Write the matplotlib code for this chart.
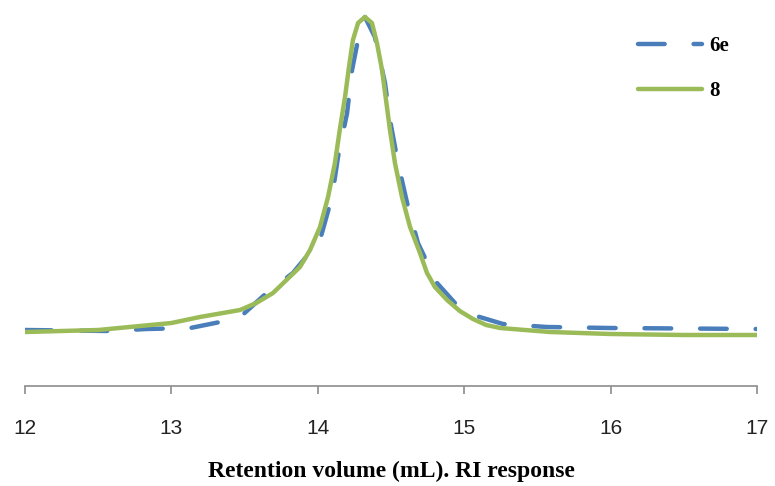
import matplotlib
matplotlib.use("Agg")
import matplotlib.pyplot as plt

# retention volume (mL) and RI response (arbitrary units)
vol_8 = [12.0, 12.5, 13.0, 13.195, 13.469, 13.58, 13.694, 13.878, 13.947,
         14.015, 14.07, 14.117, 14.152, 14.186, 14.213, 14.24, 14.275, 14.322,
         14.37, 14.404, 14.439, 14.466, 14.493, 14.527, 14.575, 14.63, 14.698,
         14.746, 14.8, 14.883, 14.97, 15.06, 15.15, 15.245, 15.586, 16.0, 16.5,
         17.0]
ri_8 = [54, 56, 63, 69, 76, 83, 93, 119, 136, 159, 189, 223, 258, 289, 319,
        346, 363, 369, 363, 343, 316, 286, 256, 223, 189, 159, 133, 113, 99,
        86, 75, 67, 61, 58, 54, 52, 51, 51]

vol_6e = [12.0, 12.58, 12.83, 13.13, 13.40, 13.47, 13.65, 13.83, 14.015, 14.097,
          14.138, 14.2, 14.234, 14.288, 14.322, 14.39, 14.459, 14.493, 14.548,
          14.61, 14.684, 14.814, 14.992, 15.265, 15.566, 16.0, 17.0]
ri_6e = [56, 55, 57, 58, 66, 69, 93, 113, 146, 189, 229, 273, 316, 356, 369,
         349, 303, 266, 223, 183, 143, 103, 74, 62, 59, 58, 57]

BLUE = "#4a7ebb"
GREEN = "#9bbb59"
AXIS_GREY = "#8c8c8c"

fig = plt.figure(figsize=(7.75, 4.86), dpi=100)
ax = fig.add_axes([25 / 775, 100 / 486, 732 / 775, 381 / 486])

ax.plot(vol_6e, ri_6e, color=BLUE, lw=3.2, dashes=(6, 6.5),
        dash_capstyle="round", label="6e", zorder=2)
ax.plot(vol_8, ri_8, color=GREEN, lw=3.2, solid_capstyle="round",
        solid_joinstyle="round", label="8", zorder=3)

ax.set_xlim(12, 17)
ax.set_ylim(0, 381)
ax.set_xticks([12, 13, 14, 15, 16, 17])
ax.set_yticks([])
for s in ("left", "right", "top"):
    ax.spines[s].set_visible(False)
ax.spines["bottom"].set_color(AXIS_GREY)
ax.spines["bottom"].set_linewidth(1.2)
ax.tick_params(axis="x", direction="out", length=6, width=1.2,
               color=AXIS_GREY, pad=18, labelsize=15, labelcolor="#222222")
for lbl in ax.get_xticklabels():
    lbl.set_fontfamily("Liberation Sans")

ax.set_xlabel("Retention volume (mL). RI response", fontfamily="Liberation Serif",
              fontweight="bold", fontsize=17, labelpad=16)

leg = ax.legend(loc="upper right", bbox_to_anchor=(0.988, 0.967), frameon=False,
                handlelength=3.1, handletextpad=0.35, labelspacing=1.2,
                prop={"family": "Liberation Serif", "weight": "bold", "size": 15})

fig.savefig("out.png", dpi=100)
